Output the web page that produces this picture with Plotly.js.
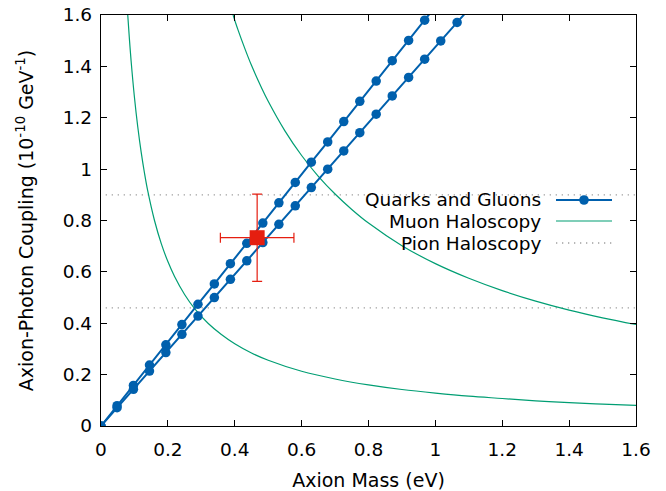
<!DOCTYPE html>
<html>
<head>
<meta charset="utf-8">
<script src="https://cdn.plot.ly/plotly-3.0.1.min.js"></script>
<style>html,body{margin:0;padding:0;background:#fff;}#chart{width:666px;height:491px;}</style>
</head>
<body>
<div id="chart"></div>
<script>
// Quarks and Gluons: two lines (upper / lower band edge)
var qgUpperX = [0, 0.048, 0.097, 0.145, 0.194, 0.242, 0.290, 0.339, 0.387, 0.436, 0.484, 0.532, 0.581, 0.629, 0.678, 0.726, 0.774, 0.823, 0.871, 0.920, 0.968, 1.016];
var qgUpperY = [0, 0.079, 0.158, 0.237, 0.316, 0.395, 0.474, 0.553, 0.632, 0.711, 0.790, 0.869, 0.948, 1.027, 1.106, 1.185, 1.264, 1.343, 1.422, 1.501, 1.580, 1.659];
var qgLowerX = [0, 0.048, 0.097, 0.145, 0.194, 0.242, 0.290, 0.339, 0.387, 0.436, 0.484, 0.532, 0.581, 0.629, 0.678, 0.726, 0.774, 0.823, 0.871, 0.920, 0.968, 1.016, 1.065, 1.113];
var qgLowerY = [0, 0.071, 0.143, 0.214, 0.286, 0.357, 0.428, 0.500, 0.571, 0.643, 0.714, 0.785, 0.857, 0.928, 1.000, 1.071, 1.142, 1.214, 1.285, 1.357, 1.428, 1.499, 1.571, 1.642];

// Muon Haloscopy: two curves
var muonInnerX = [0.08, 0.085, 0.09, 0.1, 0.11, 0.12, 0.13, 0.14, 0.16, 0.18, 0.2, 0.22, 0.25, 0.28, 0.32, 0.36, 0.4, 0.45, 0.5, 0.6, 0.7, 0.8, 0.9, 1.0, 1.1, 1.2, 1.3, 1.4, 1.5, 1.6];
var muonInnerY = [1.6, 1.506, 1.422, 1.28, 1.164, 1.067, 0.985, 0.914, 0.8, 0.711, 0.64, 0.582, 0.512, 0.457, 0.4, 0.356, 0.32, 0.284, 0.256, 0.213, 0.183, 0.16, 0.142, 0.128, 0.116, 0.107, 0.098, 0.091, 0.085, 0.08];
var muonOuterX = [0.395, 0.41, 0.43, 0.45, 0.48, 0.5, 0.55, 0.6, 0.65, 0.7, 0.75, 0.8, 0.9, 1.0, 1.1, 1.2, 1.3, 1.4, 1.5, 1.6];
var muonOuterY = [1.6, 1.541, 1.470, 1.404, 1.317, 1.264, 1.149, 1.053, 0.972, 0.903, 0.843, 0.79, 0.702, 0.632, 0.575, 0.527, 0.486, 0.451, 0.421, 0.395];

// Pion Haloscopy: horizontal levels
var pionX = [0.014, 1.6];
var pionUpper = [0.9, 0.9];
var pionLower = [0.46, 0.46];

// Measured point
var pointX = [0.467];
var pointY = [0.733];
var pointErrX = [0.11];
var pointErrY = [0.17];

// Ticks
var tickVals = [0, 0.2, 0.4, 0.6, 0.8, 1, 1.2, 1.4, 1.6];
var tickText = ['0', '0.2', '0.4', '0.6', '0.8', '1', '1.2', '1.4', '1.6'];

var legendLabels = ['Quarks and Gluons', 'Muon Haloscopy', 'Pion Haloscopy'];

var blue = '#0060ad', green = '#009e73', red = '#e51e10', gray = '#a0a0a0';
var FONT = 'DejaVu Sans, sans-serif';
var FS = 18.5;
var FT = 19;
var DOT = '1.3px,4.7px';

var traces = [
  {x: pionX, y: pionUpper, mode: 'lines', line: {color: gray, width: 1.3, dash: DOT}, hoverinfo: 'skip'},
  {x: pionX, y: pionLower, mode: 'lines', line: {color: gray, width: 1.3, dash: DOT}, hoverinfo: 'skip'},
  {x: muonInnerX, y: muonInnerY, mode: 'lines', line: {color: green, width: 1.2, shape: 'spline'}},
  {x: muonOuterX, y: muonOuterY, mode: 'lines', line: {color: green, width: 1.2, shape: 'spline'}},
  {x: qgUpperX, y: qgUpperY, mode: 'lines+markers', line: {color: blue, width: 2}, marker: {color: blue, size: 9.5}},
  {x: qgLowerX, y: qgLowerY, mode: 'lines+markers', line: {color: blue, width: 2}, marker: {color: blue, size: 9.5}},
  {x: pointX, y: pointY, mode: 'markers', marker: {color: red, size: 15, symbol: 'square'},
   error_x: {type: 'data', array: pointErrX, color: red, thickness: 1.2, width: 5},
   error_y: {type: 'data', array: pointErrY, color: red, thickness: 1.2, width: 5}}
];

// legend drawn gnuplot-style (text right-aligned, sample on the right)
function px(p) { return (p - 101) / 535; }
function py(p) { return 1 - (p - 15) / 411; }
var legY = [199, 221, 243];
var annotations = legendLabels.map(function (t, i) {
  return {text: t, xref: 'paper', yref: 'paper', x: px(543), y: py(legY[i]),
          xanchor: 'right', yanchor: 'middle', showarrow: false, font: {family: FONT, size: FS, color: '#000'}};
});
var shapes = [
  {type: 'line', xref: 'paper', yref: 'paper', x0: px(556), x1: px(612), y0: py(200), y1: py(200), line: {color: blue, width: 2}},
  {type: 'circle', xref: 'paper', yref: 'paper', x0: px(579.2), x1: px(588.8), y0: py(195.2), y1: py(204.8), fillcolor: blue, line: {color: blue, width: 0}},
  {type: 'line', xref: 'paper', yref: 'paper', x0: px(556), x1: px(612), y0: py(221), y1: py(221), line: {color: green, width: 1.2}},
  {type: 'line', xref: 'paper', yref: 'paper', x0: px(556), x1: px(612), y0: py(243), y1: py(243), line: {color: gray, width: 1.3, dash: DOT}}
];

var axisCommon = {
  range: [0, 1.6], tickvals: tickVals, ticktext: tickText, ticks: 'inside', ticklen: 6,
  tickcolor: '#000', tickwidth: 1, showline: true, linecolor: '#000', linewidth: 1.2,
  mirror: 'allticks', showgrid: false, zeroline: false, tickfont: {family: FONT, size: FS, color: '#000'}
};

var layout = {
  width: 666, height: 491, showlegend: false,
  margin: {l: 101, r: 30, t: 15, b: 65},
  paper_bgcolor: '#fff', plot_bgcolor: '#fff',
  xaxis: Object.assign({}, axisCommon, {ticklabelstandoff: 7, title: {text: 'Axion Mass (eV)', font: {family: FONT, size: FT, color: '#000'}, standoff: 15}}),
  yaxis: Object.assign({}, axisCommon, {ticklabelstandoff: 4, title: {text: 'Axion-Photon Coupling (10<sup>-10</sup> GeV<sup>-1</sup>)', font: {family: FONT, size: FT, color: '#000'}, standoff: 24}}),
  annotations: annotations, shapes: shapes
};

Plotly.newPlot('chart', traces, layout, {staticPlot: true, displayModeBar: false});
</script>
</body>
</html>
